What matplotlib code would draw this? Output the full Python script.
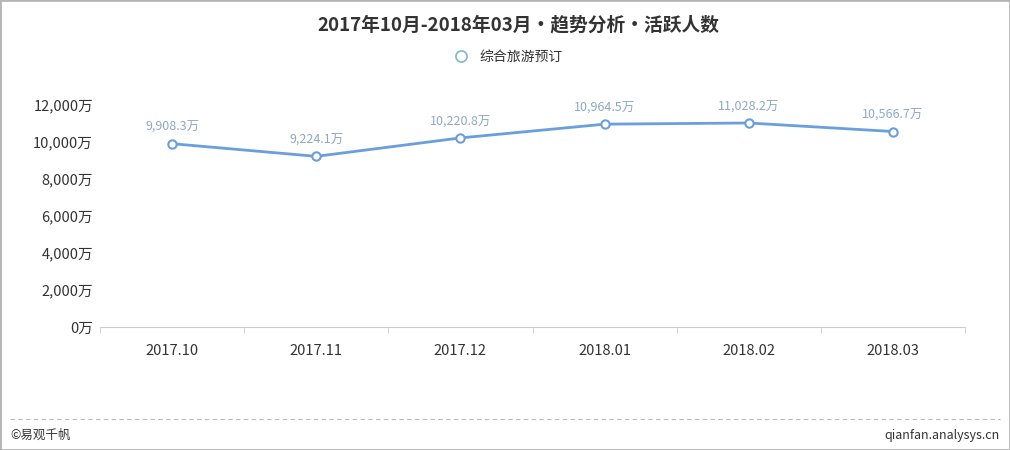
import numpy as np
import matplotlib.pyplot as plt
from matplotlib.lines import Line2D

plt.rcParams['font.family'] = ['Noto Sans CJK SC', 'DejaVu Sans']

# data
months = ['2017.10', '2017.11', '2017.12', '2018.01', '2018.02', '2018.03']
active_users = [9908.3, 9224.1, 10220.8, 10964.5, 11028.2, 10566.7]  # 万
y_ticks = [0, 2000, 4000, 6000, 8000, 10000, 12000]

line_color = '#6a9fdc'
label_color = '#8fa8c8'
text_color = '#333333'

fig = plt.figure(figsize=(10.1, 4.5), dpi=100)
ax = fig.add_axes([100 / 1010, 1 - 327 / 450, 865 / 1010, 222 / 450])

x = np.arange(len(months))
ax.plot(x, active_users, color=line_color, lw=2, marker='o', ms=6,
        mfc='white', mec=line_color, mew=1.5, zorder=3)
for xi, v in zip(x, active_users):
    ax.annotate(f'{v:,.1f}万', (xi, v), xytext=(0, 7), textcoords='offset points',
                ha='center', va='bottom', fontsize=9, color=label_color)

ax.set_xlim(-0.5, len(months) - 0.5)
ax.set_ylim(0, 12000)
ax.set_yticks(y_ticks)
ax.set_yticklabels([f'{t:,}万' for t in y_ticks])
ax.set_xticks(x)
ax.set_xticklabels(months)
ax.set_xticks(np.arange(len(months) + 1) - 0.5, minor=True)

for s in ['top', 'right', 'left']:
    ax.spines[s].set_visible(False)
ax.spines['bottom'].set_color('#cccccc')
ax.tick_params(axis='y', length=0, pad=5, labelsize=10.5, labelcolor=text_color)
ax.tick_params(axis='x', which='major', length=0, pad=12, labelsize=10.5, labelcolor=text_color)
ax.tick_params(axis='x', which='minor', length=4, color='#cccccc', direction='out')

fig.text(0.513, 1 - 25 / 450, '2017年10月-2018年03月•趋势分析•活跃人数',
         ha='center', va='center', fontsize=13.5, fontweight='bold', color=text_color)
handle = Line2D([], [], color='none', marker='o', ms=8, mfc='white', mec='#7fb8c8', mew=1.2)
fig.legend([handle], ['综合旅游预订'], loc='center', bbox_to_anchor=(0.5, 1 - 57 / 450),
           frameon=False, fontsize=10, handletextpad=0.3, labelcolor=text_color)

# footer
fig.add_artist(Line2D([10 / 1010, 1000 / 1010], [1 - 419 / 450] * 2, color='#bbbbbb',
                      lw=0.8, ls=(0, (4, 3))))
fig.text(10 / 1010, 1 - 435 / 450, '©易观千帆', ha='left', va='center', fontsize=9, color=text_color)
fig.text(1000 / 1010, 1 - 435 / 450, 'qianfan.analysys.cn', ha='right', va='center',
         fontsize=9, color=text_color)
fig.add_artist(plt.Rectangle((0, 0), 1, 1, transform=fig.transFigure, fill=False,
                             ec='#b5b5b5', lw=2))

fig.savefig('out.png', dpi=100)
